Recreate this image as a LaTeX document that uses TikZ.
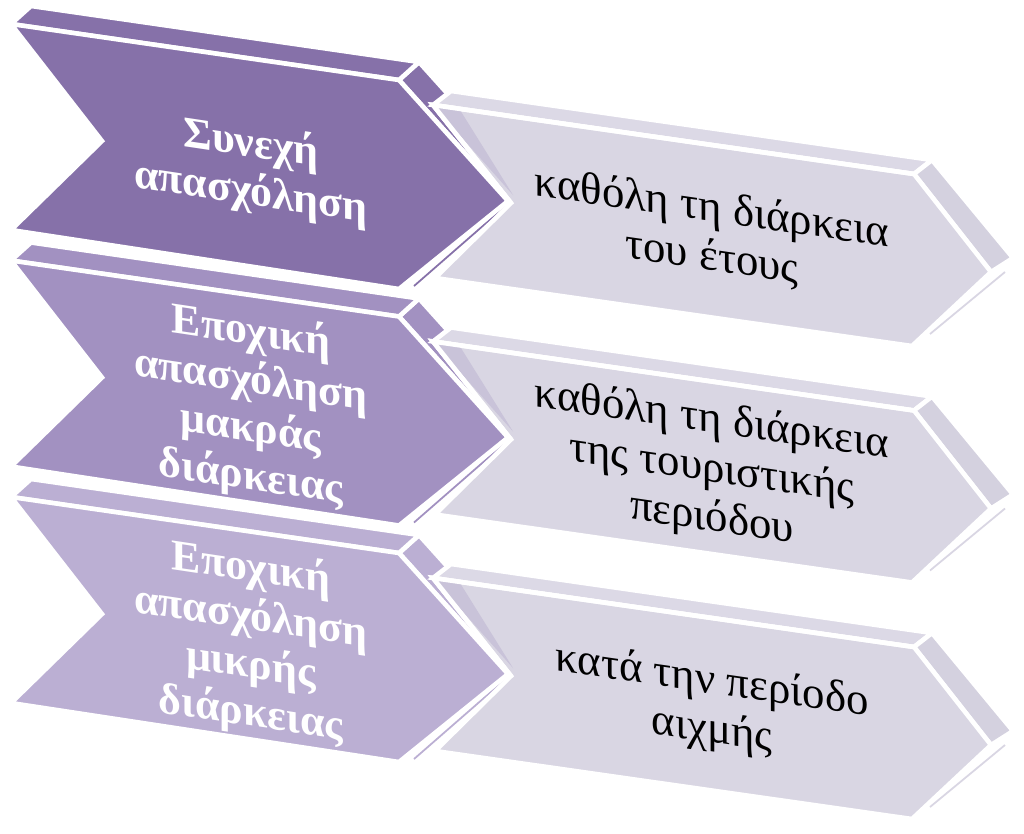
\documentclass[tikz,border=0pt]{standalone}
\usepackage{fontspec}
\setmainfont{Liberation Serif}
\usetikzlibrary{calc}
\definecolor{violetA}{HTML}{8671A9}
\definecolor{violetB}{HTML}{A291C1}
\definecolor{violetC}{HTML}{BBAFD3}
\definecolor{lilac}{HTML}{D9D6E3}
\definecolor{lilacTop}{HTML}{DCD9E6}
\definecolor{lilacSide}{HTML}{D4D1DF}
\definecolor{lilacShade}{HTML}{C9C3D9}

\tikzset{
  face/.style={draw=white, line width=2.6pt, line join=miter},
  sliver/.style={line width=1pt},
  lefttext/.style={text=white, font=\fontsize{25}{27.5}\selectfont\bfseries, align=center, inner sep=0pt, yslant=-0.15},
  righttext/.style={text=black, font=\fontsize{25.5}{28}\selectfont, align=center, inner sep=0pt, yslant=-0.145}
}

\begin{document}
\begin{tikzpicture}[x=0.02cm, y=-0.02cm]
\fill[white] (0,0) rectangle (1024,833);
\foreach \row/\col/\txtL/\txtR in {
  0/violetA/{Συνεχή\\απασχόληση}/{καθόλη τη διάρκεια\\του έτους},
  1/violetB/{Εποχική\\απασχόληση\\μακράς\\διάρκειας}/{καθόλη τη διάρκεια\\της τουριστικής\\περιόδου},
  2/violetC/{Εποχική\\απασχόληση\\μικρής\\διάρκειας}/{κατά την περίοδο\\αιχμής}}{
\begin{scope}[shift={(0,236.5*\row)}]
  % left chevron
  \coordinate (ltl) at (11,24);
  \coordinate (ltr) at (399,80);
  \coordinate (ltip) at (508,201);
  \coordinate (lbr) at (399,289);
  \coordinate (lbl) at (11,230);
  \coordinate (lnotch) at (102,141);
  \draw[sliver, \col] ($(ltip)+(0,3)$) -- ($(lbr)+(15,-3)$);
  \draw[face, fill=\col] (ltr) -- ++(20,-18) -- ($(ltip)+(20,-18)$) -- (ltip) -- cycle;
  \draw[face, fill=\col] (ltl) -- ++(20,-18) -- ($(ltr)+(20,-18)$) -- (ltr) -- cycle;
  \draw[face, fill=\col] (ltl) -- (ltr) -- (ltip) -- (lbr) -- (lbl) -- (lnotch) -- cycle;
  \node[lefttext] (l\row) at (251,169) {\txtL};
  % right chevron
  \coordinate (rtl) at (433,105);
  \coordinate (rtr) at (914,174);
  \coordinate (rtip) at (991,272);
  \coordinate (rbr) at (912,346);
  \coordinate (rbl) at (435,278);
  \coordinate (rnotch) at (511,203);
  \draw[sliver, lilac] ($(rtip)+(14,0)$) -- ($(rbr)+(18,-12)$);
  \draw[face, fill=lilacTop] (rtl) -- ++(18,-14) -- ($(rtr)+(18,-14)$) -- (rtr) -- cycle;
  \draw[face, fill=lilacSide] (rtr) -- ++(18,-14) -- ($(rtip)+(22,-14)$) -- (rtip) -- cycle;
  \draw[face, fill=lilac] (rtl) -- (rtr) -- (rtip) -- (rbr) -- (rbl) -- (rnotch) -- cycle;
  \fill[lilacShade] (rtl) -- ($(rtl)+(27,5)$) -- ($(rnotch)+(2,-8)$) -- cycle;
  \draw[face] (rtr) -- (rtl) -- (rnotch);
  \node[righttext] (r\row) at (712,234) {\txtR};
\end{scope}
}
\end{tikzpicture}
\end{document}
